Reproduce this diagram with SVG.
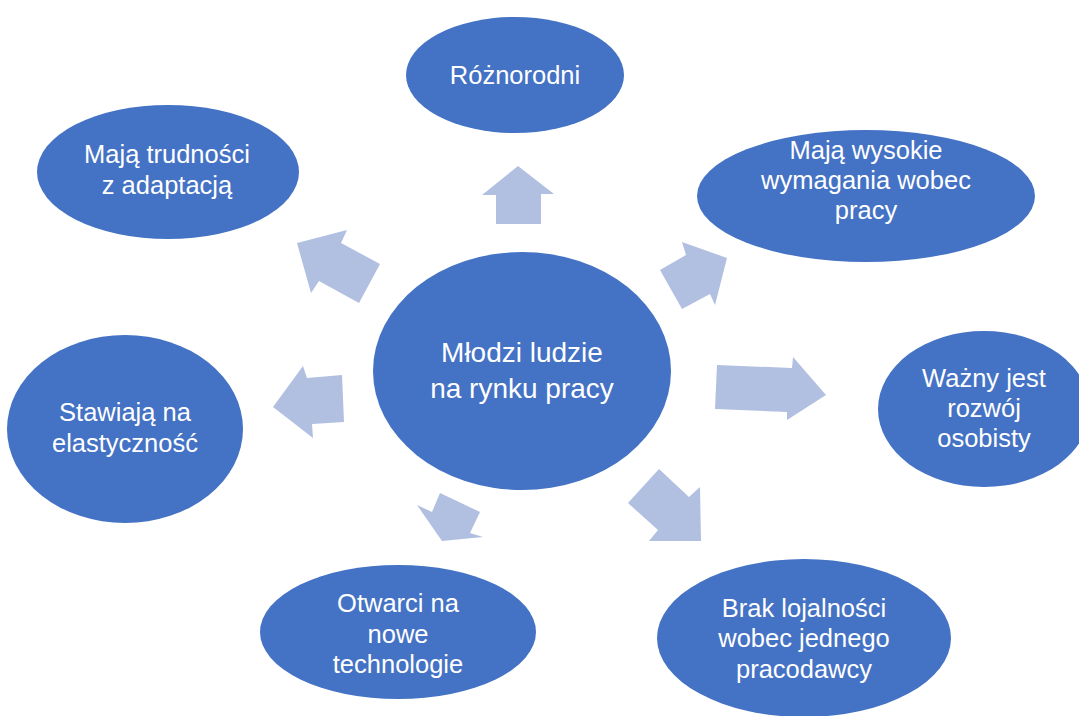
<svg xmlns="http://www.w3.org/2000/svg" width="1079" height="716" viewBox="0 0 1079 716">
<style>
.node{fill:#4472C4;}
.arr{fill:#B1BFE1;}
.t{fill:#FFFFFF;font-family:"Liberation Sans",Arial,sans-serif;font-size:25.5px;text-anchor:middle;}
.tc{font-size:28px;}
</style>
<rect x="0" y="0" width="1079" height="716" fill="#FFFFFF"/>
<g id="connectors">
<polygon class="arr" points="518,166 554,194 541,194 541,224 496,224 496,195 482,195"/>
<polygon class="arr" points="297,243 347,230 341,243 380,264 359,303 319,281 311,293"/>
<polygon class="arr" points="727,258 715,305 710,294 682,309 660,270 686,255 682,242"/>
<polygon class="arr" points="826,395 787,420 787,412 715,409 717,365 792,368 793,357"/>
<polygon class="arr" points="273,407 303,366 307,378 342,375 344,422 312,424 313,438"/>
<polygon class="arr" points="442,541 483,537 470,533 480,512 440,493 432,512 417,505"/>
<polygon class="arr" points="701,541 649,541 658,530 628,503 659,469 689,497 700,487"/>
</g>
<g id="n-center">
<ellipse class="node" cx="522" cy="371" rx="149" ry="119"/>
<text class="t tc" x="522" y="362">Młodzi ludzie</text>
<text class="t tc" x="522" y="398">na rynku pracy</text>
</g>
<g id="n-roznorodni">
<ellipse class="node" cx="515" cy="75" rx="109" ry="58"/>
<text class="t" x="515" y="84">Różnorodni</text>
</g>
<g id="n-trudnosci">
<ellipse class="node" cx="168" cy="172" rx="131" ry="67"/>
<text class="t" x="167" y="163">Mają trudności</text>
<text class="t" x="167" y="194">z adaptacją</text>
</g>
<g id="n-wymagania">
<ellipse class="node" cx="866" cy="196" rx="169" ry="66"/>
<text class="t" x="866" y="159">Mają wysokie</text>
<text class="t" x="866" y="189">wymagania wobec</text>
<text class="t" x="866" y="219">pracy</text>
</g>
<g id="n-rozwoj">
<ellipse class="node" cx="984" cy="409" rx="106" ry="78"/>
<text class="t" x="984" y="387">Ważny jest</text>
<text class="t" x="984" y="417">rozwój</text>
<text class="t" x="984" y="447">osobisty</text>
</g>
<g id="n-elastycznosc">
<ellipse class="node" cx="125" cy="429" rx="118" ry="94"/>
<text class="t" x="125" y="421">Stawiają na</text>
<text class="t" x="125" y="452">elastyczność</text>
</g>
<g id="n-technologie">
<ellipse class="node" cx="398" cy="632" rx="138" ry="67"/>
<text class="t" x="398" y="612">Otwarci na</text>
<text class="t" x="398" y="643">nowe</text>
<text class="t" x="398" y="673">technologie</text>
</g>
<g id="n-lojalnosc">
<ellipse class="node" cx="804" cy="638" rx="147" ry="79"/>
<text class="t" x="804" y="617">Brak lojalności</text>
<text class="t" x="804" y="647">wobec jednego</text>
<text class="t" x="804" y="678">pracodawcy</text>
</g>
</svg>
